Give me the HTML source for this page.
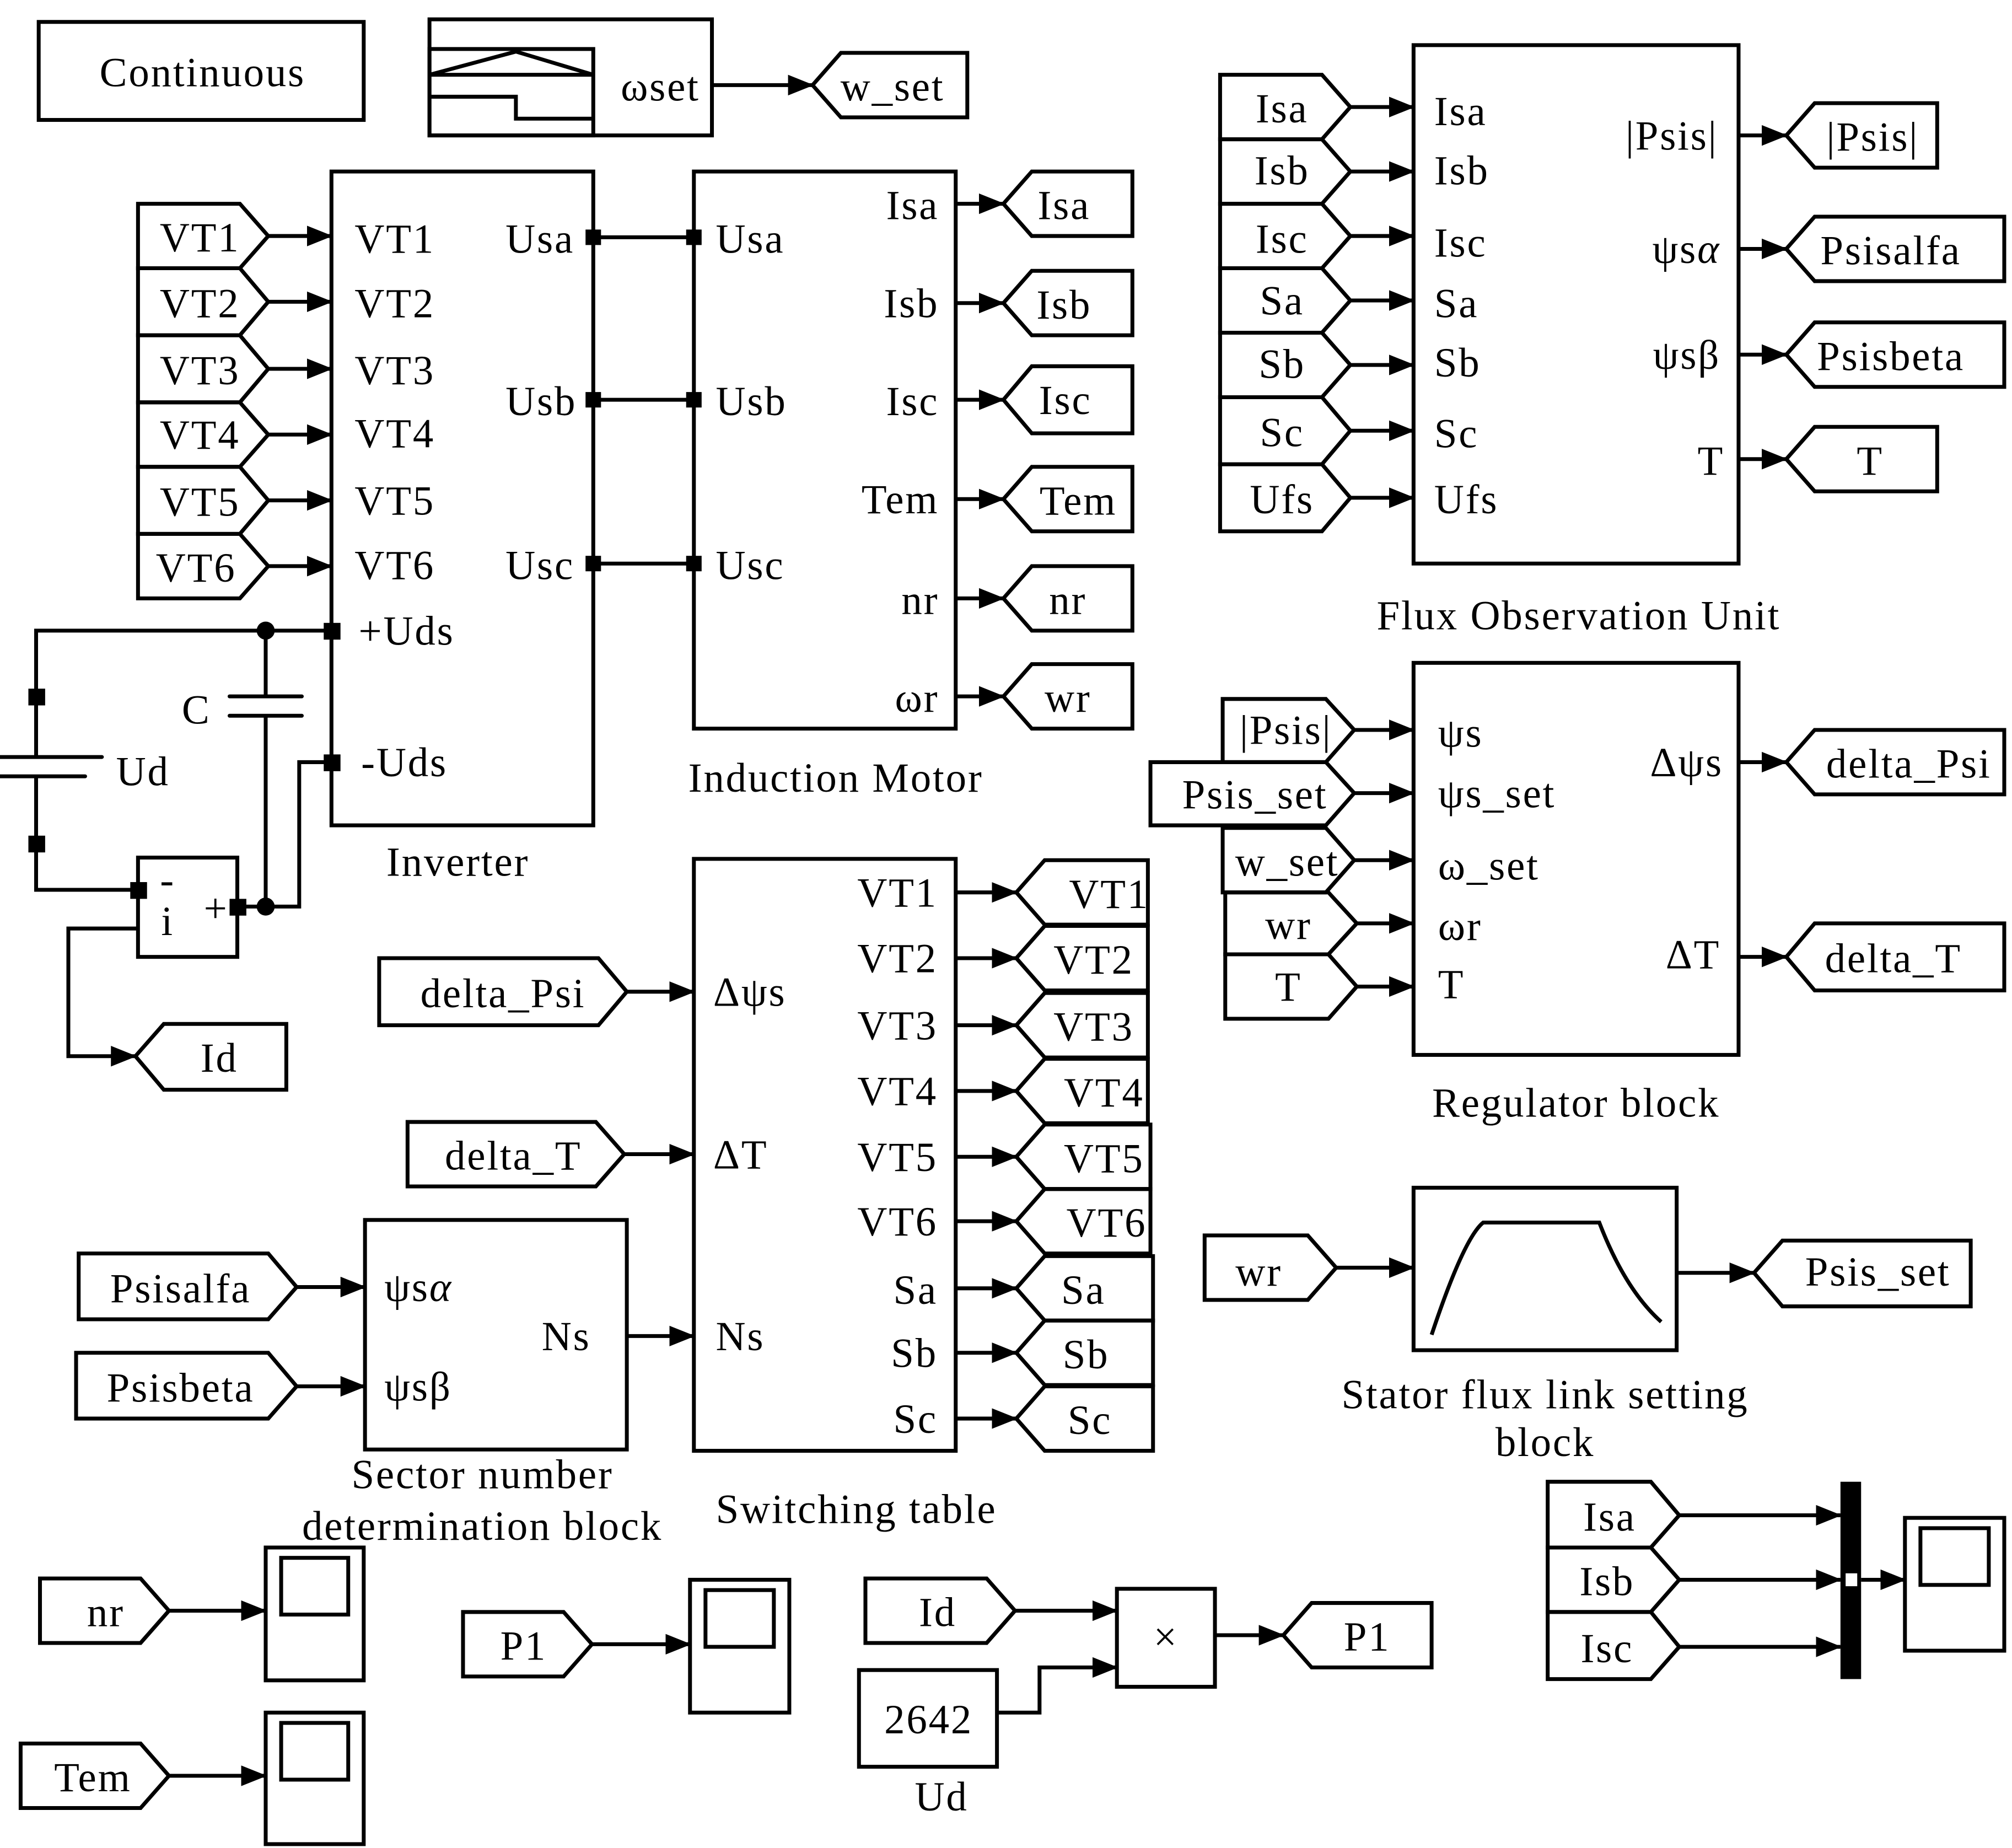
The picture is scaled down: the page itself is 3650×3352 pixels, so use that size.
<!DOCTYPE html>
<html><head><meta charset="utf-8"><style>
html,body{margin:0;padding:0;background:#fff;}
svg{display:block;}
text{font-family:"Liberation Serif",serif;font-size:32px;letter-spacing:1.2px;fill:#000;}
</style></head><body>
<svg width="3650" height="3352" viewBox="0 0 1560 1433" preserveAspectRatio="none" xmlns="http://www.w3.org/2000/svg">
<defs>
<marker id="a" viewBox="0 0 20 16" refX="19" refY="8" markerWidth="20" markerHeight="16" markerUnits="userSpaceOnUse" orient="auto">
<path d="M0,0 L20,8 L0,16 z" fill="#000"/>
</marker>
</defs>
<g fill="none" stroke="#000" stroke-width="3" stroke-linejoin="miter">
<rect x="30" y="17" width="252" height="76"/>
<rect x="333" y="15" width="219" height="90"/>
<rect x="333" y="38" width="127" height="67"/>
<path d="M333,58 L400,40 L460,58 M333,58 L460,58 M333,75 L400,75 L400,92 L460,92"/>
<rect x="257" y="133" width="203" height="507"/>
<rect x="538" y="133" width="203" height="432"/>
<rect x="538" y="666" width="203" height="459"/>
<rect x="283" y="946" width="203" height="178"/>
<rect x="1096" y="35" width="252" height="402"/>
<rect x="1096" y="514" width="252" height="304"/>
<rect x="1096" y="921" width="204" height="126"/>
<path d="M1110,1035 Q1135,960 1150,948 L1240,948 Q1260,1000 1288,1025"/>
<path d="M28,587 L28,489 L257,489 M28,602 L28,690 L107,690 M206,489 L206,540 M206,555 L206,703 M184,703 L232,703 L232,591 L257,591"/>
<path d="M0,587 L79,587 M0,602 L66,602 M178,540 L234,540 M178,555 L234,555" stroke-linecap="round"/>
<rect x="107" y="665" width="77" height="77"/>
<path d="M107,720 L53,720 L53,819 L105,819" marker-end="url(#a)"/>
<path d="M460,184 L538,184 M460,310 L538,310 M460,437 L538,437"/>
<rect x="666" y="1295" width="107" height="75"/>
<rect x="866" y="1232" width="76" height="76"/>
<rect x="206" y="1200" width="76" height="103"/><rect x="218" y="1208" width="52" height="44"/>
<rect x="206" y="1328" width="76" height="102"/><rect x="218" y="1336" width="52" height="44"/>
<rect x="535" y="1225" width="77" height="103"/><rect x="547" y="1233" width="53" height="44"/>
<rect x="1477" y="1177" width="77" height="103"/><rect x="1489" y="1185" width="53" height="44"/>
<g>
<path d="M107,158 H186 L208,183 L186,208 H107 Z"/>
<path d="M107,208 H186 L208,234 L186,260 H107 Z"/>
<path d="M107,260 H186 L208,286 L186,312 H107 Z"/>
<path d="M107,312 H186 L208,337 L186,362 H107 Z"/>
<path d="M107,362 H186 L208,388 L186,414 H107 Z"/>
<path d="M107,414 H186 L208,439 L186,464 H107 Z"/>
<path d="M294,743 H464 L486,769 L464,795 H294 Z"/>
<path d="M316,870 H462 L484,895 L462,920 H316 Z"/>
<path d="M61,972 H208 L230,998 L208,1023 H61 Z"/>
<path d="M59,1049 H208 L230,1075 L208,1100 H59 Z"/>
<path d="M946,58 H1025 L1047,83 L1025,108 H946 Z"/>
<path d="M946,108 H1025 L1047,133 L1025,158 H946 Z"/>
<path d="M946,158 H1025 L1047,183 L1025,208 H946 Z"/>
<path d="M946,208 H1025 L1047,233 L1025,258 H946 Z"/>
<path d="M946,258 H1025 L1047,283 L1025,308 H946 Z"/>
<path d="M946,308 H1025 L1047,334 L1025,360 H946 Z"/>
<path d="M946,360 H1025 L1047,386 L1025,412 H946 Z"/>
<path d="M948,542 H1028 L1050,566 L1028,591 H948 Z"/>
<path d="M892,591 H1028 L1050,615 L1028,640 H892 Z"/>
<path d="M948,642 H1028 L1050,667 L1028,692 H948 Z"/>
<path d="M950,692 H1030 L1052,716 L1030,740 H950 Z"/>
<path d="M950,740 H1030 L1052,765 L1030,790 H950 Z"/>
<path d="M934,958 H1014 L1036,983 L1014,1008 H934 Z"/>
<path d="M31,1224 H109 L131,1249 L109,1274 H31 Z"/>
<path d="M16,1352 H109 L131,1377 L109,1402 H16 Z"/>
<path d="M359,1250 H437 L459,1275 L437,1300 H359 Z"/>
<path d="M671,1224 H765 L787,1249 L765,1274 H671 Z"/>
<path d="M1200,1149 H1280 L1302,1175 L1280,1200 H1200 Z"/>
<path d="M1200,1200 H1280 L1302,1225 L1280,1250 H1200 Z"/>
<path d="M1200,1250 H1280 L1302,1277 L1280,1302 H1200 Z"/>
</g>
<g>
<path d="M630,66 L652,41 H750 V91 H652 Z"/>
<path d="M778,158 L800,133 H878 V183 H800 Z"/>
<path d="M778,235 L800,210 H878 V260 H800 Z"/>
<path d="M778,310 L800,284 H878 V336 H800 Z"/>
<path d="M778,387 L800,362 H878 V412 H800 Z"/>
<path d="M778,464 L800,439 H878 V489 H800 Z"/>
<path d="M778,540 L800,515 H878 V565 H800 Z"/>
<path d="M105,819 L127,794 H222 V845 H127 Z"/>
<path d="M788,692 L810,667 H890 V717 H810 Z"/>
<path d="M788,743 L810,718 H890 V768 H810 Z"/>
<path d="M788,795 L810,770 H890 V820 H810 Z"/>
<path d="M788,846 L810,821 H890 V871 H810 Z"/>
<path d="M788,897 L810,872 H892 V922 H810 Z"/>
<path d="M788,947 L810,922 H892 V972 H810 Z"/>
<path d="M788,999 L810,974 H894 V1024 H810 Z"/>
<path d="M788,1049 L810,1024 H894 V1074 H810 Z"/>
<path d="M788,1100 L810,1075 H894 V1125 H810 Z"/>
<path d="M1385,105 L1407,80 H1502 V130 H1407 Z"/>
<path d="M1385,193 L1407,168 H1554 V218 H1407 Z"/>
<path d="M1385,275 L1407,250 H1554 V300 H1407 Z"/>
<path d="M1385,356 L1407,331 H1502 V381 H1407 Z"/>
<path d="M1385,591 L1407,566 H1554 V616 H1407 Z"/>
<path d="M1385,742 L1407,716 H1554 V768 H1407 Z"/>
<path d="M1360,987 L1382,962 H1528 V1013 H1382 Z"/>
<path d="M995,1268 L1017,1243 H1110 V1293 H1017 Z"/>
</g>
<g marker-end="url(#a)">
<path d="M552,66 H630"/>
<path d="M208,183 H257"/><path d="M208,234 H257"/><path d="M208,286 H257"/><path d="M208,337 H257"/><path d="M208,388 H257"/><path d="M208,439 H257"/>
<path d="M741,158 H778"/><path d="M741,235 H778"/><path d="M741,310 H778"/><path d="M741,387 H778"/><path d="M741,464 H778"/><path d="M741,540 H778"/>
<path d="M486,769 H538"/><path d="M484,895 H538"/><path d="M486,1036 H538"/>
<path d="M230,998 H283"/><path d="M230,1075 H283"/>
<path d="M741,692 H788"/><path d="M741,743 H788"/><path d="M741,795 H788"/><path d="M741,846 H788"/><path d="M741,897 H788"/><path d="M741,947 H788"/><path d="M741,999 H788"/><path d="M741,1049 H788"/><path d="M741,1100 H788"/>
<path d="M1047,83 H1096"/><path d="M1047,133 H1096"/><path d="M1047,183 H1096"/><path d="M1047,233 H1096"/><path d="M1047,283 H1096"/><path d="M1047,334 H1096"/><path d="M1047,386 H1096"/>
<path d="M1348,105 H1385"/><path d="M1348,193 H1385"/><path d="M1348,275 H1385"/><path d="M1348,356 H1385"/>
<path d="M1050,566 H1096"/><path d="M1050,615 H1096"/><path d="M1050,667 H1096"/><path d="M1052,716 H1096"/><path d="M1052,765 H1096"/>
<path d="M1348,591 H1385"/><path d="M1348,742 H1385"/>
<path d="M1036,983 H1096"/><path d="M1300,987 H1360"/>
<path d="M131,1249 H206"/><path d="M131,1377 H206"/><path d="M459,1275 H535"/>
<path d="M787,1249 H866"/><path d="M773,1328 H806 V1293 H866"/><path d="M942,1268 H995"/>
<path d="M1302,1175 H1427"/><path d="M1302,1225 H1427"/><path d="M1302,1277 H1427"/>
<path d="M1443,1225 H1477"/>
</g>
</g>
<g fill="#000">
<rect x="1427" y="1149" width="16" height="153"/>
<rect x="454" y="178" width="12" height="12"/><rect x="532" y="178" width="12" height="12"/>
<rect x="454" y="304" width="12" height="12"/><rect x="532" y="304" width="12" height="12"/>
<rect x="454" y="431" width="12" height="12"/><rect x="532" y="431" width="12" height="12"/>
<rect x="251" y="483" width="13" height="13"/><rect x="251" y="585" width="13" height="13"/>
<rect x="22" y="534" width="13" height="13"/><rect x="22" y="648" width="13" height="13"/>
<rect x="101" y="684" width="13" height="13"/><rect x="178" y="697" width="13" height="13"/>
<circle cx="206" cy="489" r="7"/><circle cx="206" cy="703" r="7"/>
</g>
<rect x="1431" y="1220" width="9" height="10" fill="#fff"/>
<g>
<text x="157" y="67" text-anchor="middle">Continuous</text>
<text x="512" y="78" text-anchor="middle">ωset</text>
<text x="692" y="78" text-anchor="middle">w_set</text>
<g text-anchor="middle">
<text x="155" y="195">VT1</text><text x="155" y="246">VT2</text><text x="155" y="298">VT3</text><text x="155" y="348">VT4</text><text x="155" y="400">VT5</text><text x="152" y="451">VT6</text>
<text x="825" y="170">Isa</text><text x="825" y="247">Isb</text><text x="826" y="321">Isc</text><text x="836" y="399">Tem</text><text x="828" y="476">nr</text><text x="828" y="552">wr</text>
<text x="170" y="831">Id</text>
<text x="390" y="781">delta_Psi</text><text x="398" y="907">delta_T</text>
<text x="140" y="1010">Psisalfa</text><text x="140" y="1087">Psisbeta</text>
<text x="860" y="704">VT1</text><text x="848" y="755">VT2</text><text x="848" y="807">VT3</text><text x="856" y="858">VT4</text><text x="856" y="909">VT5</text><text x="858" y="959">VT6</text>
<text x="840" y="1011">Sa</text><text x="842" y="1061">Sb</text><text x="845" y="1112">Sc</text>
<text x="994" y="95">Isa</text><text x="994" y="143">Isb</text><text x="994" y="196">Isc</text><text x="994" y="244">Sa</text><text x="994" y="293">Sb</text><text x="994" y="346">Sc</text><text x="994" y="398">Ufs</text>
<text x="1452" y="117">|Psis|</text><text x="1466" y="205">Psisalfa</text><text x="1466" y="287">Psisbeta</text><text x="1450" y="368">T</text>
<text x="997" y="577">|Psis|</text><text x="973" y="627">Psis_set</text><text x="998" y="679">w_set</text><text x="999" y="728">wr</text><text x="999" y="776">T</text>
<text x="1480" y="603">delta_Psi</text><text x="1468" y="754">delta_T</text>
<text x="976" y="997">wr</text><text x="1456" y="997">Psis_set</text>
<text x="82" y="1261">nr</text><text x="72" y="1389">Tem</text><text x="406" y="1287">P1</text>
<text x="727" y="1261">Id</text><text x="720" y="1344">2642</text><text x="904" y="1280">×</text><text x="1060" y="1280">P1</text>
<text x="1248" y="1187">Isa</text><text x="1246" y="1237">Isb</text><text x="1246" y="1289">Isc</text>
<text x="355" y="679">Inverter</text><text x="648" y="614">Induction Motor</text>
<text x="664" y="1181">Switching table</text>
<text x="374" y="1154">Sector number</text><text x="374" y="1194">determination block</text>
<text x="1224" y="488">Flux Observation Unit</text><text x="1222" y="866">Regulator block</text>
<text x="1198" y="1092">Stator flux link setting</text><text x="1198" y="1129">block</text>
<text x="730" y="1404">Ud</text>
<text x="130" y="693" font-size="24">-</text><text x="130" y="725">i</text>
</g>
<text x="275" y="196">VT1</text><text x="275" y="246">VT2</text><text x="275" y="298">VT3</text><text x="275" y="347">VT4</text><text x="275" y="399">VT5</text><text x="275" y="449">VT6</text>
<text x="278" y="500">+Uds</text><text x="280" y="602">-Uds</text>
<text x="392" y="196">Usa</text><text x="392" y="322">Usb</text><text x="392" y="449">Usc</text>
<text x="555" y="196">Usa</text><text x="555" y="322">Usb</text><text x="555" y="449">Usc</text>
<text x="553" y="780">Δψs</text><text x="553" y="906">ΔT</text><text x="555" y="1047">Ns</text>
<text x="298" y="1009">ψs<tspan font-style="italic">α</tspan></text><text x="298" y="1086">ψsβ</text><text x="420" y="1047">Ns</text>
<text x="1112" y="97">Isa</text><text x="1112" y="143">Isb</text><text x="1112" y="199">Isc</text><text x="1112" y="246">Sa</text><text x="1112" y="292">Sb</text><text x="1112" y="347">Sc</text><text x="1112" y="398">Ufs</text>
<text x="1115" y="579">ψs</text><text x="1115" y="626">ψs_set</text><text x="1115" y="682">ω_set</text><text x="1115" y="729">ωr</text><text x="1115" y="774">T</text>
<text x="141" y="561">C</text><text x="90" y="609">Ud</text>
<text x="158" y="715" font-size="24">+</text>
<g text-anchor="end">
<text x="728" y="170">Isa</text><text x="728" y="246">Isb</text><text x="728" y="322">Isc</text><text x="728" y="398">Tem</text><text x="728" y="476">nr</text><text x="728" y="552">ωr</text>
<text x="727" y="703">VT1</text><text x="727" y="754">VT2</text><text x="727" y="806">VT3</text><text x="727" y="857">VT4</text><text x="727" y="908">VT5</text><text x="727" y="958">VT6</text><text x="727" y="1011">Sa</text><text x="727" y="1060">Sb</text><text x="727" y="1111">Sc</text>
<text x="1332" y="116">|Psis|</text><text x="1334" y="204">ψs<tspan font-style="italic">α</tspan></text><text x="1334" y="286">ψsβ</text><text x="1337" y="368">T</text>
<text x="1336" y="602">Δψs</text><text x="1334" y="751">ΔT</text>
</g>
</g>
</svg>
</body></html>
